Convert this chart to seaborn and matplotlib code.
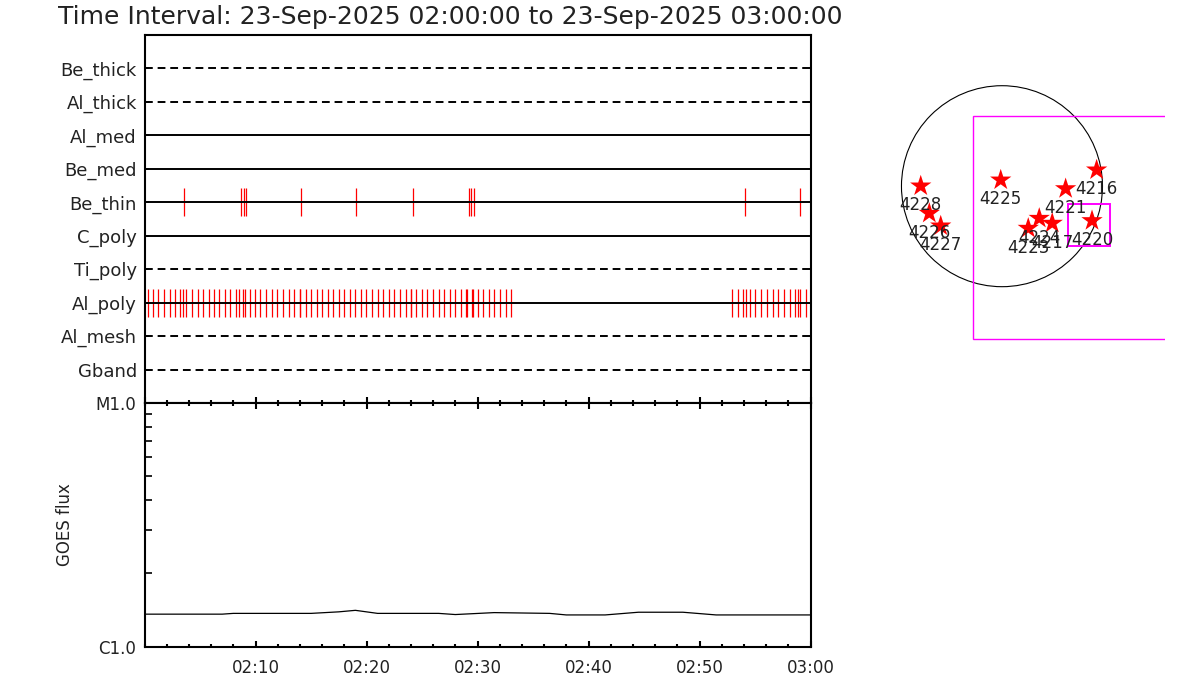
import matplotlib
matplotlib.use("Agg")
import matplotlib.pyplot as plt
import seaborn as sns
from matplotlib.patches import Circle, Rectangle
from matplotlib.ticker import MultipleLocator, LogLocator, NullFormatter

# ---- data ----
title = "Time Interval: 23-Sep-2025 02:00:00 to 23-Sep-2025 03:00:00"

filters = ["Be_thick", "Al_thick", "Al_med", "Be_med", "Be_thin",
           "C_poly", "Ti_poly", "Al_poly", "Al_mesh", "Gband"]
filter_dashed = [True, True, False, False, False, False, True, False, True, True]

# exposure times, minutes after 02:00
be_thin_times = [3.60, 8.69, 8.99, 9.15, 14.08, 19.08, 24.16, 29.20, 29.40, 29.68,
                 54.10, 59.08]
al_poly_times = [0.34, 0.79, 1.24, 1.78, 2.32, 2.77, 3.23, 3.50, 3.77, 4.31, 4.79,
                 5.30, 5.78, 6.29, 6.74, 7.28, 7.73, 8.27, 8.54, 8.90, 9.08, 9.48,
                 9.93, 10.43, 10.95, 11.46, 11.91, 12.50, 12.99, 13.50, 13.98, 14.04,
                 14.52, 14.97, 15.51, 16.02, 16.50, 17.01, 17.50, 18.00, 18.51, 18.99,
                 19.50, 19.98, 20.52, 21.04, 21.51, 22.03, 22.50, 23.02, 23.53, 23.98,
                 24.04, 24.49, 25.00, 25.48, 25.99, 26.50, 27.01, 27.52, 28.00, 28.51,
                 28.99, 29.08, 29.50, 29.57, 30.02, 30.52, 31.04, 31.51, 32.03, 32.54,
                 33.06,
                 52.95, 53.50, 53.95, 54.16, 54.58, 55.03, 55.57, 56.11, 56.59, 57.10,
                 57.64, 58.13, 58.58, 58.90, 59.08, 59.62]
filter_events = {"Be_thin": be_thin_times, "Al_poly": al_poly_times}

goes_minutes = [0, 7, 8, 15, 17.5, 19, 21, 26.5, 28, 31.5, 36.5, 38, 41.5, 44.5,
                48.5, 51.5, 60]
goes_flux = [1.36e-6, 1.36e-6, 1.37e-6, 1.37e-6, 1.39e-6, 1.41e-6, 1.37e-6, 1.37e-6,
             1.355e-6, 1.38e-6, 1.37e-6, 1.35e-6, 1.35e-6, 1.385e-6, 1.385e-6,
             1.35e-6, 1.35e-6]

time_ticks = [10, 20, 30, 40, 50, 60]
time_labels = ["02:10", "02:20", "02:30", "02:40", "02:50", "03:00"]

# active regions, heliocentric arcsec
ar_numbers = ["4228", "4226", "4227", "4225", "4221", "4216", "4220", "4223", "4224", "4217"]
ar_x = [-776, -694, -585, -12, 608, 904, 860, 251, 356, 480]
ar_y = [2, -259, -380, 59, -24, 155, -329, -402, -307, -354]
sun_radius = 960
fov_box = (-274, -1456, 2127, 2126)   # x0, y0, width, height
zoom_box = (627, -571, 407, 398)

# ---- figure ----
sns.set_style("white")
plt.rcParams["font.family"] = ["DejaVu Sans"]
W, H = 1200, 700
fig = plt.figure(figsize=(12, 7), dpi=100)


def px_axes(left, top, right, bottom):
    return fig.add_axes([left / W, 1 - bottom / H, (right - left) / W, (bottom - top) / H])


ax_top = px_axes(144.5, 35, 810.5, 403)
ax_bot = px_axes(144.5, 403, 810.5, 646.7)
ax_map = px_axes(880, 70, 1165, 345)

text_col = "#222222"

# filter timeline
rows = [len(filters) - i for i in range(len(filters))]
for name, row, dashed in zip(filters, rows, filter_dashed):
    if name in filter_events:
        ax_top.vlines(filter_events[name], row - 0.415, row + 0.415, color="red", lw=0.9, zorder=2)
    ax_top.axhline(row, color="black", lw=1.4, ls=(0, (4, 2.5)) if dashed else "-", zorder=3)
ax_top.set_xlim(0, 60)
ax_top.set_ylim(0, len(filters) + 1)
ax_top.set_yticks(rows)
ax_top.set_yticklabels(filters, fontsize=13, color=text_col)
ax_top.tick_params(axis="y", direction="in", left=True, length=3, width=1.2,
                   color="black", pad=5.5)
ax_top.xaxis.set_major_locator(MultipleLocator(10))
ax_top.xaxis.set_minor_locator(MultipleLocator(2))
ax_top.tick_params(axis="x", which="both", direction="in", bottom=True, top=False,
                   labelbottom=False, width=1.5, color="black")
ax_top.tick_params(axis="x", which="major", length=4)
ax_top.tick_params(axis="x", which="minor", length=2)
for sp in ax_top.spines.values():
    sp.set_linewidth(1.5)
    sp.set_color("black")

# GOES flux
sns.lineplot(x=goes_minutes, y=goes_flux, ax=ax_bot, color="black", lw=0.9)
ax_bot.set_yscale("log")
ax_bot.set_ylim(1e-6, 1e-5)
ax_bot.set_xlim(0, 60)
ax_bot.set_yticks([1e-6, 1e-5])
ax_bot.set_yticklabels(["C1.0", "M1.0"], fontsize=12, color=text_col)
ax_bot.yaxis.set_minor_locator(LogLocator(base=10, subs=range(2, 10)))
ax_bot.yaxis.set_minor_formatter(NullFormatter())
ax_bot.tick_params(axis="y", which="both", direction="in", left=True, right=False,
                   width=1.2, color="black", pad=6)
ax_bot.tick_params(axis="y", which="minor", length=5)
ax_bot.tick_params(axis="y", which="major", length=0)
ax_bot.set_xticks(time_ticks)
ax_bot.set_xticklabels(time_labels, fontsize=12, color=text_col)
ax_bot.xaxis.set_minor_locator(MultipleLocator(2))
ax_bot.tick_params(axis="x", which="both", direction="in", bottom=True, top=True,
                   width=1.5, color="black", pad=9)
ax_bot.tick_params(axis="x", which="major", length=4)
ax_bot.tick_params(axis="x", which="minor", length=2)
ax_bot.set_ylabel("GOES flux", fontsize=12, color=text_col)
ax_bot.yaxis.set_label_coords(-0.106, 0.5)
for sp in ax_bot.spines.values():
    sp.set_linewidth(1.5)
    sp.set_color("black")

# solar disk map
ax_map.add_patch(Circle((0, 0), sun_radius, fill=False, ec="black", lw=0.8))
ax_map.add_patch(Rectangle(fov_box[:2], fov_box[2], fov_box[3], fill=False, ec="#ff00ff", lw=1.0))
ax_map.add_patch(Rectangle(zoom_box[:2], zoom_box[2], zoom_box[3], fill=False, ec="#ff00ff", lw=1.4))
sns.scatterplot(x=ar_x, y=ar_y, ax=ax_map, marker="*", s=260, color="red",
                edgecolor="none", zorder=3, legend=False)
for num, x, y in zip(ar_numbers, ar_x, ar_y):
    ax_map.text(x, y - 186, num, ha="center", va="center", fontsize=12, color=text_col, zorder=4)
ax_map.set_xlim(-1165, 1557)
ax_map.set_ylim(-1517, 1110)
ax_map.axis("off")

fig.text(58 / W, 1 - 17 / H, title, ha="left", va="center", fontsize=18, color=text_col)

fig.savefig("out.png", dpi=100)
